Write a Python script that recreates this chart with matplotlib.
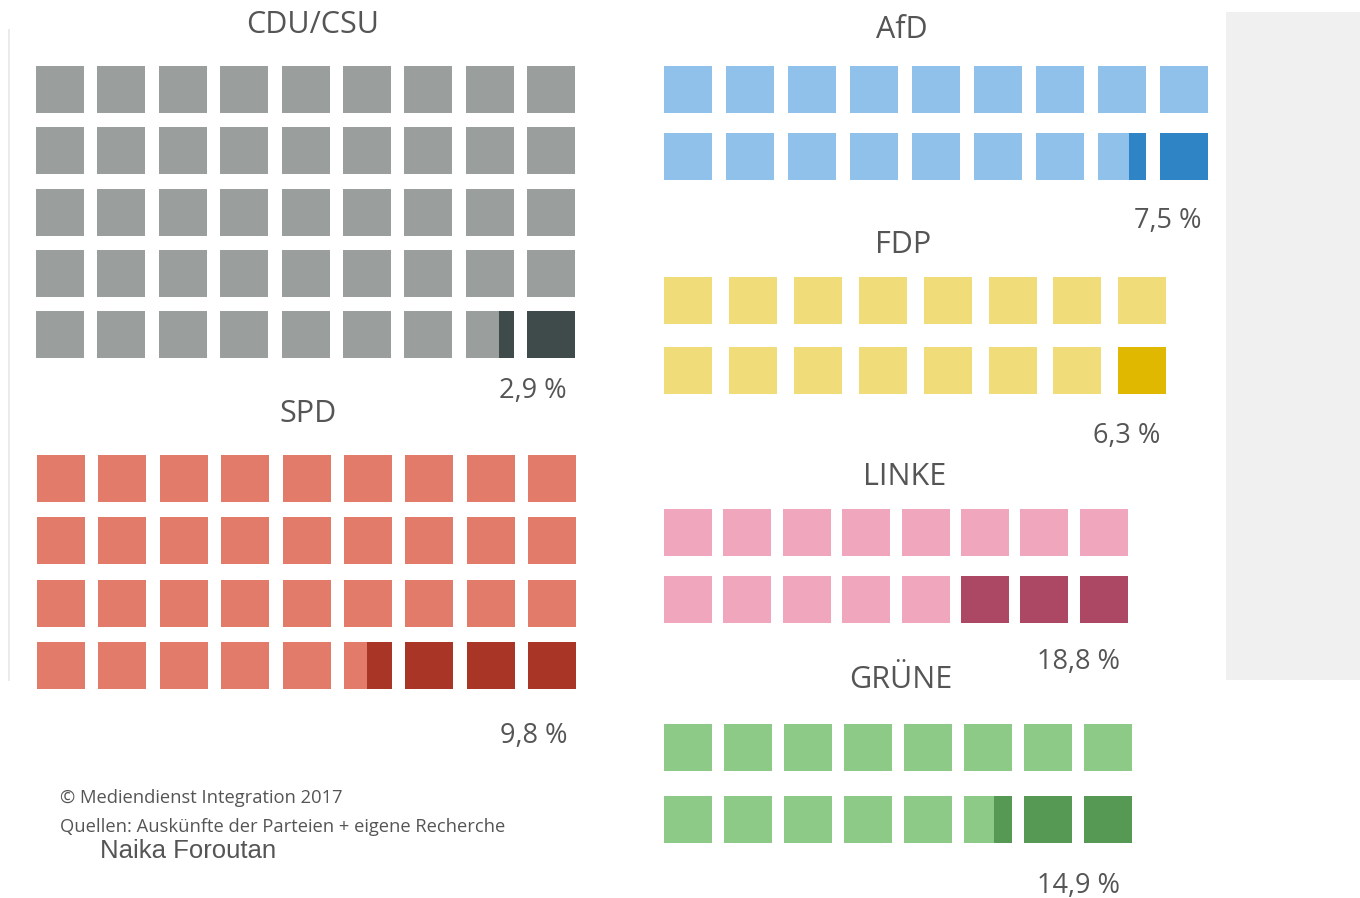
import matplotlib.pyplot as plt
from matplotlib.patches import Rectangle

# ---------------------------------------------------------------
# Data: squares per party and share (%) with migration background
# ---------------------------------------------------------------
parties = ['CDU/CSU', 'SPD', 'AfD', 'FDP', 'LINKE', 'GRÜNE']
squares = [45, 36, 18, 16, 16, 16]
columns = [9, 9, 9, 8, 8, 8]
share_pct = [2.9, 9.8, 7.5, 6.3, 18.8, 14.9]

light_colors = ['#9a9f9e', '#e37b6a', '#8fc1ea', '#f0dc78', '#f0a7bd', '#8dca88']
dark_colors = ['#3f4a4a', '#a83526', '#2f84c6', '#e0b800', '#ad4864', '#559955']

footer_lines = ['© Mediendienst Integration 2017',
                'Quellen: Auskünfte der Parteien + eigene Recherche']
author = 'Naika Foroutan'

# ---------------------------------------------------------------
# Layout (pixel coordinates, origin top-left)
# ---------------------------------------------------------------
# x0, y0, pitch x, pitch y, square w, square h
grids = [
    (36, 66, 61.4, 61.3, 48, 47),
    (37, 455, 61.4, 62.4, 48, 47),
    (664, 66, 62.0, 67.0, 48, 47),
    (664, 277, 64.9, 70.0, 48, 47),
    (664, 509, 59.4, 67.0, 48, 47),
    (664, 724, 60.0, 72.0, 48, 47),
]
title_pos = [(313, 25), (308, 414), (902, 30), (903, 245), (905, 477), (901, 680)]
label_pos = [(567, 391), (567, 736), (1201, 221), (1160, 436), (1120, 662), (1120, 886)]

TXT = '#555555'
plt.rcParams['font.family'] = ['Open Sans', 'DejaVu Sans']

fig = plt.figure(figsize=(13.6, 8.98), dpi=100)
ax = fig.add_axes([0, 0, 1, 1])
ax.set_xlim(0, 1360)
ax.set_ylim(898, 0)
ax.axis('off')

# grey side panel and thin left rule
ax.add_patch(Rectangle((1226, 12), 134, 668, color='#f0f0f0', lw=0, zorder=0))
ax.plot([9, 9], [30, 680], color='#e6e6e6', lw=1.2, zorder=0)

for i, party in enumerate(parties):
    x0, y0, px, py, w, h = grids[i]
    n, ncol = squares[i], columns[i]
    dark = n * share_pct[i] / 100.0
    for k in range(n):
        r, c = divmod(k, ncol)
        x = x0 + c * px
        y = y0 + r * py
        ax.add_patch(Rectangle((x, y), w, h, color=light_colors[i], lw=0))
        # dark part counted from the last square backwards
        from_end = n - k  # 1 for the last square
        frac = min(max(dark - (from_end - 1), 0), 1)
        if frac > 0.02:
            ax.add_patch(Rectangle((x + w * (1 - frac), y), w * frac, h,
                                   color=dark_colors[i], lw=0))
    tx, ty = title_pos[i]
    ax.text(tx, ty, party, ha='center', va='center', fontsize=22, color=TXT)
    lx, ly = label_pos[i]
    label = f'{share_pct[i]:.1f} %'.replace('.', ',')
    ax.text(lx, ly, label, ha='right', va='center', fontsize=19.5, color=TXT)

ax.text(60, 798, footer_lines[0], ha='left', va='center', fontsize=13.2, color=TXT)
ax.text(60, 827, footer_lines[1], ha='left', va='center', fontsize=13.2, color=TXT)
ax.text(100, 851, author, ha='left', va='center', fontsize=18.5, color=TXT,
        family='Liberation Sans')

fig.savefig('out.png', dpi=100, facecolor='white')
